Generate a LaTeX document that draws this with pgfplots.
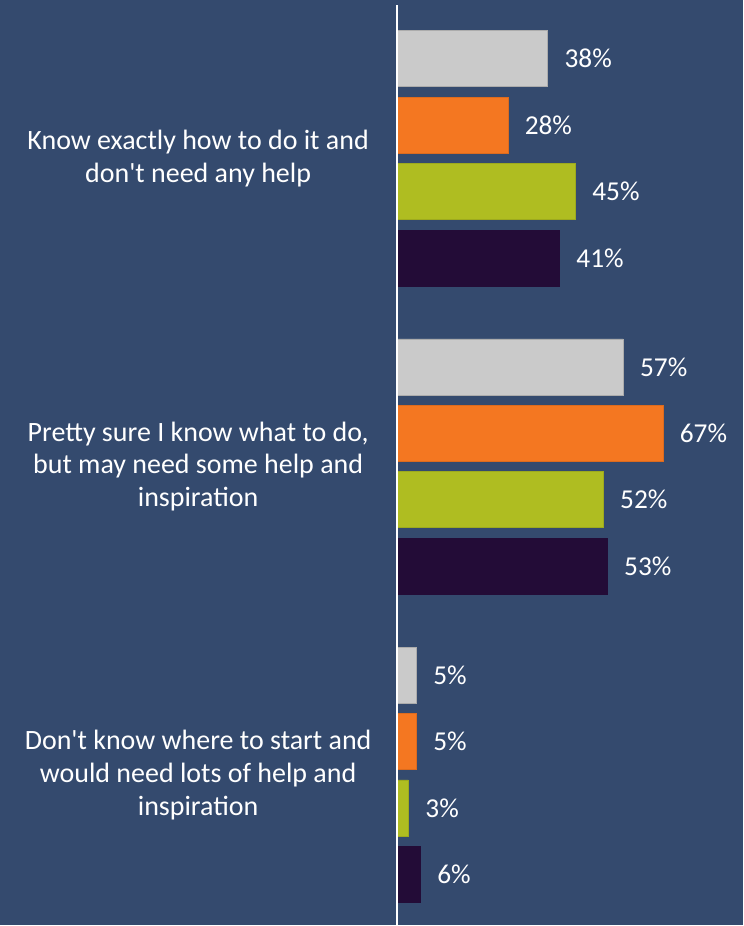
\documentclass[border=0pt]{standalone}
\usepackage{pgfplots}
\pgfplotsset{compat=1.18}
\usepackage{fontspec}
\setmainfont{Carlito}
\definecolor{bg}{HTML}{344A6E}
\definecolor{cgray}{HTML}{CACACA}
\definecolor{corange}{HTML}{F47721}
\definecolor{cgreen}{HTML}{AFBD21}
\definecolor{cpurple}{HTML}{230C37}
\begin{document}
\begin{tikzpicture}
\fill[bg] (0,0) rectangle (558pt,694.5pt);
\begin{axis}[
  at={(297.75pt,0pt)}, anchor=south west,
  scale only axis, width=260.25pt, height=694.5pt,
  xmin=0, xmax=87.19,
  ymin=-0.5138, ymax=2.4878, y dir=reverse,
  axis lines*=left, axis line style={draw=none},
  xtick=\empty,
  xbar, bar width=0.1815,
  ytick={0,1,2}, major tick length=0,
  yticklabels={{Know exactly how to do it and\\don\textquotesingle t need any help},
               {Pretty sure I know what to do,\\but may need some help and\\inspiration},
               {Don\textquotesingle t know where to start and\\would need lots of help and\\inspiration}},
  yticklabel style={anchor=center, align=center, xshift=-149pt, text=white,
    font=\fontsize{21}{24.75}\selectfont},
  nodes near coords={\pgfmathprintnumber[assume math mode=true]{\pgfplotspointmeta}\%},
  nodes near coords style={anchor=west, inner sep=0pt, xshift=12.5pt, text=white,
    font=\fontsize{20.5}{24}\selectfont},
  clip=false,
]
\addplot[fill=cgray, draw=cgray!85!black, line width=0.4pt, bar shift=-0.3234] coordinates {(38,0) (57,1) (5,2)};
\addplot[fill=corange, draw=corange!90!black, line width=0.4pt, bar shift=-0.1078] coordinates {(28,0) (67,1) (5,2)};
\addplot[fill=cgreen, draw=cgreen!90!black, line width=0.4pt, bar shift=0.1078] coordinates {(45,0) (52,1) (3,2)};
\addplot[fill=cpurple, draw=cpurple, line width=0.4pt, bar shift=0.3234] coordinates {(41,0) (53,1) (6,2)};
\draw[white, line width=1.5pt] (axis cs:0,-0.497) -- (axis cs:0,2.4878);
\end{axis}
\end{tikzpicture}
\end{document}
